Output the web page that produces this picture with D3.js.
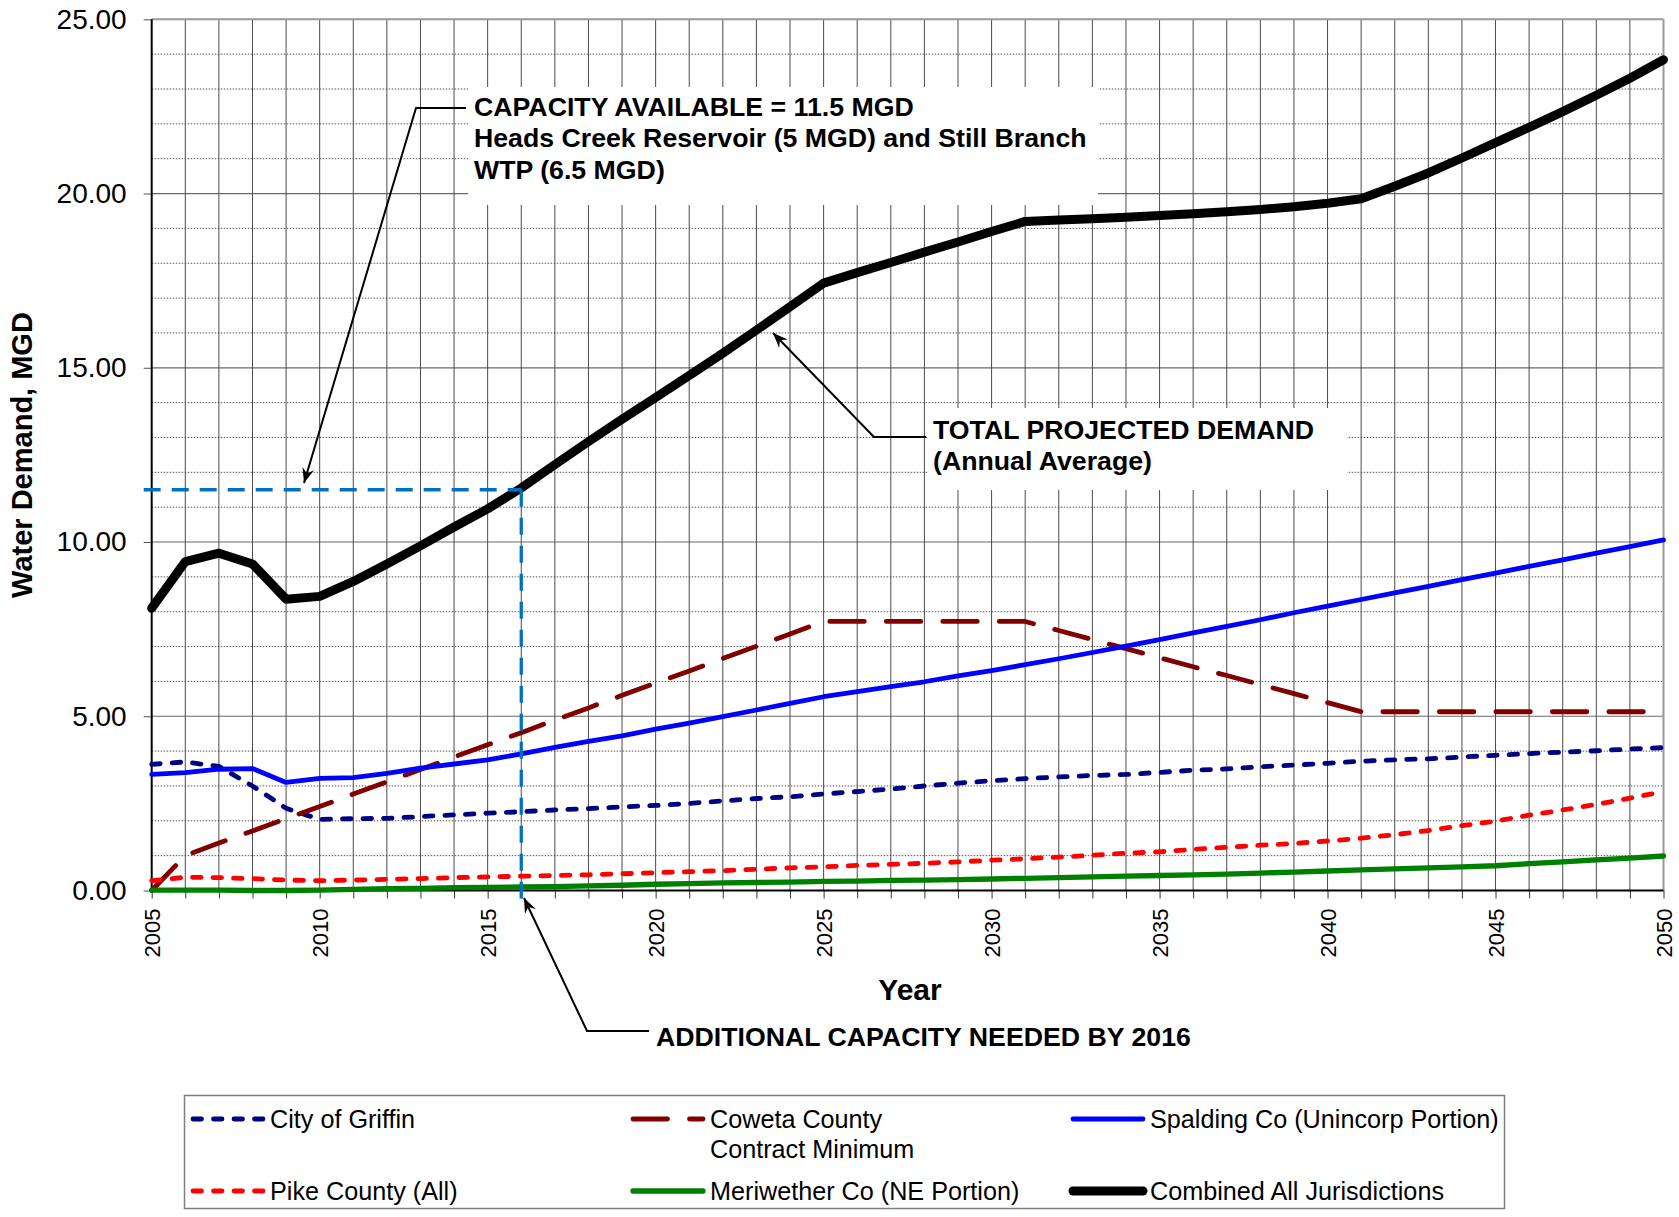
<!DOCTYPE html>
<html>
<head>
<meta charset="utf-8">
<script src="https://cdn.jsdelivr.net/npm/d3@7"></script>
<style>
  html, body { margin: 0; padding: 0; background: #fff; }
  svg { display: block; font-family: "Liberation Sans", Arial, sans-serif; }
</style>
</head>
<body>
<svg id="chart" width="1679" height="1217"></svg>
<script>
// Projected annual average water demand (MGD) by jurisdiction, 2005-2050
const years = [2005, 2006, 2007, 2008, 2009, 2010, 2011, 2012, 2013, 2014,
  2015, 2016, 2017, 2018, 2019, 2020, 2021, 2022, 2023, 2024,
  2025, 2026, 2027, 2028, 2029, 2030, 2031, 2032, 2033, 2034,
  2035, 2036, 2037, 2038, 2039, 2040, 2041, 2042, 2043, 2044,
  2045, 2046, 2047, 2048, 2049, 2050];

const cityOfGriffin = [3.62, 3.69, 3.56, 3.00, 2.36, 2.04, 2.06, 2.07, 2.12, 2.17,
  2.22, 2.26, 2.31, 2.35, 2.40, 2.44, 2.50, 2.57, 2.64, 2.69,
  2.77, 2.84, 2.91, 3.00, 3.08, 3.15, 3.21, 3.26, 3.30, 3.33,
  3.39, 3.45, 3.49, 3.55, 3.60, 3.65, 3.71, 3.75, 3.78, 3.83,
  3.88, 3.93, 3.97, 4.01, 4.06, 4.10];

const cowetaContractMin = [0.00, 1.00, 1.36, 1.71, 2.06, 2.41, 2.77, 3.12, 3.47, 3.83,
  4.18, 4.53, 4.89, 5.24, 5.60, 5.95, 6.30, 6.66, 7.01, 7.36,
  7.72, 7.72, 7.72, 7.72, 7.72, 7.72, 7.72, 7.46, 7.20, 6.94,
  6.68, 6.42, 6.17, 5.91, 5.65, 5.39, 5.13, 5.13, 5.13, 5.13,
  5.13, 5.13, 5.13, 5.13, 5.13, 5.13];

const spaldingUnincorp = [3.33, 3.38, 3.48, 3.50, 3.10, 3.22, 3.24, 3.36, 3.51, 3.63,
  3.75, 3.92, 4.11, 4.28, 4.44, 4.63, 4.80, 4.99, 5.18, 5.37,
  5.56, 5.71, 5.85, 5.99, 6.16, 6.31, 6.48, 6.65, 6.83, 7.01,
  7.20, 7.39, 7.58, 7.77, 7.97, 8.16, 8.35, 8.54, 8.73, 8.92,
  9.11, 9.30, 9.49, 9.68, 9.87, 10.06];

const pikeCounty = [0.28, 0.38, 0.37, 0.34, 0.30, 0.28, 0.30, 0.32, 0.34, 0.37,
  0.39, 0.41, 0.43, 0.45, 0.48, 0.51, 0.54, 0.57, 0.61, 0.65,
  0.68, 0.72, 0.75, 0.78, 0.82, 0.87, 0.91, 0.96, 1.01, 1.07,
  1.11, 1.18, 1.24, 1.30, 1.35, 1.42, 1.50, 1.60, 1.72, 1.86,
  1.99, 2.16, 2.31, 2.47, 2.65, 2.84];

const meriwetherNE = [0.01, 0.01, 0.01, 0.00, 0.00, 0.01, 0.03, 0.05, 0.06, 0.08,
  0.09, 0.10, 0.11, 0.13, 0.15, 0.18, 0.20, 0.22, 0.23, 0.24,
  0.26, 0.27, 0.29, 0.30, 0.31, 0.33, 0.35, 0.37, 0.39, 0.41,
  0.43, 0.45, 0.47, 0.50, 0.53, 0.56, 0.59, 0.62, 0.65, 0.68,
  0.71, 0.77, 0.82, 0.88, 0.93, 0.99];

const combinedAll = [8.10, 9.44, 9.68, 9.37, 8.36, 8.44, 8.87, 9.37, 9.89, 10.43,
  10.95, 11.55, 12.22, 12.88, 13.52, 14.15, 14.78, 15.42, 16.08, 16.75,
  17.43, 17.73, 18.02, 18.32, 18.61, 18.91, 19.20, 19.24, 19.28, 19.32,
  19.37, 19.42, 19.48, 19.54, 19.62, 19.72, 19.85, 20.21, 20.59, 21.02,
  21.46, 21.90, 22.35, 22.82, 23.31, 23.84];

const yTicks = [0, 5, 10, 15, 20, 25];
const xLabelYears = [2005, 2010, 2015, 2020, 2025, 2030, 2035, 2040, 2045, 2050];

const capacityAvailable = 11.5;   // MGD
const capacityYear = 2016;

const seriesNames = ["City of Griffin", "Coweta County\nContract Minimum", "Spalding Co (Unincorp Portion)",
  "Pike County (All)", "Meriwether Co (NE Portion)", "Combined All Jurisdictions"];

// ---- layout ----
const svg = d3.select("#chart");
const plot = { left: 151.7, right: 1663.5, top: 19.3, bottom: 890.5 };
const x = d3.scaleLinear().domain([2005, 2050]).range([plot.left, plot.right]);
const y = d3.scaleLinear().domain([0, 25]).range([plot.bottom, plot.top]);

const styles = [
  { color: "#000080", width: 4.8, dash: "8.5,12", cap: "round" },
  { color: "#800000", width: 4.8, dash: "34.5,22", cap: "round" },
  { color: "#0000FF", width: 4.8, dash: null, cap: "round" },
  { color: "#FF0000", width: 4.8, dash: "8.5,12", cap: "round" },
  { color: "#008000", width: 5.3, dash: null, cap: "round" },
  { color: "#000000", width: 9, dash: null, cap: "round" }
];
const seriesValues = [cityOfGriffin, cowetaContractMin, spaldingUnincorp, pikeCounty, meriwetherNE, combinedAll];

// ---- grid ----
const grid = svg.append("g");
const minorLevels = d3.range(1, 25).filter(v => v % 5 !== 0);
grid.selectAll("line.minor").data(minorLevels).join("line")
  .attr("x1", plot.left).attr("x2", plot.right)
  .attr("y1", d => y(d)).attr("y2", d => y(d))
  .attr("stroke", "#555").attr("stroke-width", 1).attr("stroke-dasharray", "1.5,1.5");
grid.selectAll("line.major").data([5, 10, 15, 20]).join("line")
  .attr("x1", plot.left).attr("x2", plot.right)
  .attr("y1", d => y(d)).attr("y2", d => y(d))
  .attr("stroke", "#6a6a6a").attr("stroke-width", 1.2);
grid.selectAll("line.vert").data(years.slice(1, -1)).join("line")
  .attr("x1", d => x(d)).attr("x2", d => x(d))
  .attr("y1", plot.top).attr("y2", plot.bottom)
  .attr("stroke", "#4a4a4a").attr("stroke-width", 1);
// top and right frame
grid.append("line").attr("x1", plot.left).attr("x2", plot.right)
  .attr("y1", y(25)).attr("y2", y(25)).attr("stroke", "#9a9a9a").attr("stroke-width", 2);
grid.append("line").attr("x1", x(2050)).attr("x2", x(2050))
  .attr("y1", plot.top).attr("y2", plot.bottom).attr("stroke", "#9a9a9a").attr("stroke-width", 2);

// white backing boxes for the call-out text
svg.append("rect").attr("x", 468).attr("y", 87).attr("width", 630).attr("height", 118).attr("fill", "#fff");
svg.append("rect").attr("x", 928).attr("y", 408).attr("width", 419).attr("height", 82).attr("fill", "#fff");

// ---- axes ----
const yAxis = d3.axisLeft(y).tickValues(yTicks).tickFormat(d3.format(".2f"))
  .tickSize(8).tickSizeOuter(0).tickPadding(17);
const gy = svg.append("g").attr("transform", `translate(${plot.left},0)`).call(yAxis);
gy.select(".domain").remove();
gy.selectAll(".tick line").attr("stroke", "#555");
gy.selectAll("text").attr("font-size", 28).attr("fill", "#000")
  .attr("font-family", "'Liberation Sans', Arial, sans-serif");

const xAxis = d3.axisBottom(x).tickValues(years)
  .tickFormat(d => xLabelYears.includes(d) ? String(d) : "")
  .tickSize(8).tickSizeOuter(0);
const gx = svg.append("g").attr("transform", `translate(0,${plot.bottom})`).call(xAxis);
gx.select(".domain").remove();
gx.selectAll(".tick line").attr("stroke", "#333");
gx.selectAll("text")
  .attr("font-size", 22).attr("fill", "#000")
  .attr("font-family", "'Liberation Sans', Arial, sans-serif")
  .attr("y", 0).attr("x", -18).attr("dy", "0.35em")
  .attr("transform", "rotate(-90)")
  .style("text-anchor", "end");

// axis lines
svg.append("line").attr("x1", plot.left).attr("x2", plot.left)
  .attr("y1", plot.top).attr("y2", plot.bottom).attr("stroke", "#000").attr("stroke-width", 2);
svg.append("line").attr("x1", plot.left).attr("x2", plot.right)
  .attr("y1", plot.bottom).attr("y2", plot.bottom).attr("stroke", "#000").attr("stroke-width", 2);

// axis titles
svg.append("text").attr("x", 910).attr("y", 989.5).attr("dy", "0.35em")
  .attr("text-anchor", "middle").attr("font-size", 30).attr("font-weight", "bold").text("Year");
svg.append("text").attr("transform", "translate(21.5,455) rotate(-90)").attr("dy", "0.35em")
  .attr("text-anchor", "middle").attr("font-size", 29).attr("font-weight", "bold").text("Water Demand, MGD");

// ---- series ----
const line = d3.line().x((d, i) => x(years[i])).y(d => y(d));
const gs = svg.append("g");
seriesValues.forEach((vals, k) => {
  const s = styles[k];
  gs.append("path").datum(vals)
    .attr("d", line)
    .attr("fill", "none")
    .attr("stroke", s.color)
    .attr("stroke-width", s.width)
    .attr("stroke-linecap", s.cap)
    .attr("stroke-linejoin", "round")
    .attr("stroke-dasharray", s.dash);
});

// ---- capacity guide lines ----
const guide = svg.append("g").attr("stroke", "#0070C0").attr("stroke-width", 3.3)
  .attr("stroke-dasharray", "17,11").attr("fill", "none");
guide.append("path")
  .attr("d", `M${x(2005) - 8},${y(capacityAvailable)} H${x(capacityYear)}`);
guide.append("path")
  .attr("d", `M${x(capacityYear)},${y(capacityAvailable)} V${plot.bottom + 8}`);

// ---- call-outs ----
const defs = svg.append("defs");
defs.append("marker").attr("id", "arrow")
  .attr("viewBox", "-16 -7 18 14").attr("refX", 0).attr("refY", 0)
  .attr("markerWidth", 18).attr("markerHeight", 14)
  .attr("markerUnits", "userSpaceOnUse").attr("orient", "auto")
  .append("path").attr("d", "M0,0 L-15,-6 L-10,0 L-15,6 Z").attr("fill", "#000");

const leader = d3.line();
const leaders = [
  [[466, 108], [416, 108], [304, 483]],
  [[926, 437], [874, 437], [773, 333]],
  [[649, 1031], [587, 1031], [524, 898]]
];
leaders.forEach(pts => {
  svg.append("path").attr("d", leader(pts)).attr("fill", "none")
    .attr("stroke", "#000").attr("stroke-width", 2)
    .attr("marker-end", "url(#arrow)");
});

const callouts = [
  { x: 474, y0: 116, lines: ["CAPACITY AVAILABLE = 11.5 MGD", "Heads Creek Reservoir (5 MGD) and Still Branch", "WTP (6.5 MGD)"] },
  { x: 933, y0: 438.5, lines: ["TOTAL PROJECTED DEMAND", "(Annual Average)"] },
  { x: 656, y0: 1045.5, lines: ["ADDITIONAL CAPACITY NEEDED BY 2016"] }
];
callouts.forEach(c => {
  const t = svg.append("text").attr("font-size", 26.7).attr("font-weight", "bold").attr("fill", "#000");
  c.lines.forEach((ln, i) => {
    t.append("tspan").attr("x", c.x).attr("y", c.y0 + i * 31.3).text(ln);
  });
});

// ---- legend ----
const legend = svg.append("g");
legend.append("rect").attr("x", 184.5).attr("y", 1095.5).attr("width", 1320).attr("height", 113)
  .attr("fill", "#fff").attr("stroke", "#808080").attr("stroke-width", 1.5);
const legendPos = [
  { x: 193, y: 1119 }, { x: 633, y: 1119 }, { x: 1073, y: 1119 },
  { x: 193, y: 1191 }, { x: 633, y: 1191 }, { x: 1073, y: 1191 }
];
seriesNames.forEach((name, k) => {
  const p = legendPos[k], s = styles[k];
  legend.append("line").attr("x1", p.x).attr("x2", p.x + 70)
    .attr("y1", p.y).attr("y2", p.y)
    .attr("stroke", s.color).attr("stroke-width", s.width)
    .attr("stroke-linecap", s.cap).attr("stroke-dasharray", s.dash);
  const t = legend.append("text").attr("font-size", 25.2).attr("fill", "#000");
  name.split("\n").forEach((ln, i) => {
    t.append("tspan").attr("x", p.x + 77).attr("y", p.y + i * 30).attr("dy", "0.35em").text(ln);
  });
});
</script>
</body>
</html>
